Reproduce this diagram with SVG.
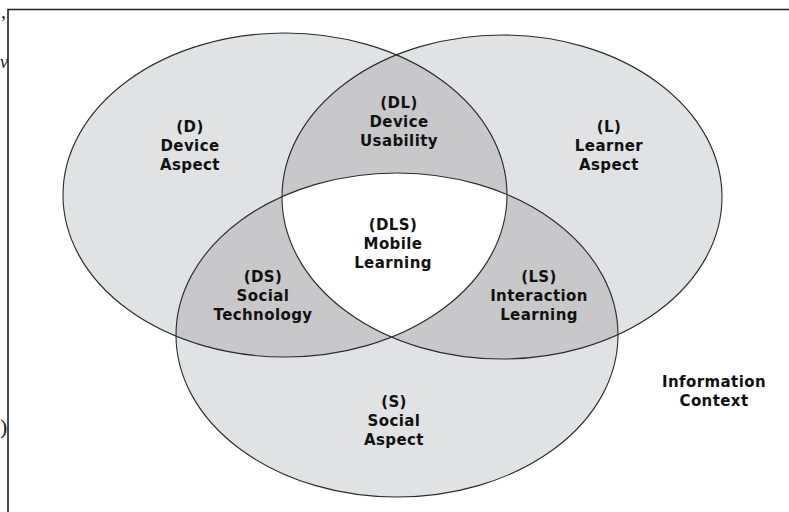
<svg xmlns="http://www.w3.org/2000/svg" width="789" height="512" viewBox="0 0 789 512">
  <style>
    .one { fill: #e1e2e4; }
    .two { fill: #c8c8ca; }
    .three { fill: #ffffff; }
    .edge { fill: none; stroke: #2b2b2b; stroke-width: 1.1; }
    .lbl { font-family: "DejaVu Sans", "Open Sans", sans-serif; font-weight: bold; font-size: 15px; letter-spacing: 0.4px; fill: #111; text-anchor: middle; }
    .stray { font-family: "Liberation Serif", serif; fill: #222; }
    .frame { stroke: #222; stroke-width: 1.6; fill: none; }
  </style>
  <defs>
    <ellipse id="eD" cx="285" cy="195" rx="222" ry="162"/>
    <ellipse id="eL" cx="502" cy="197" rx="220" ry="162"/>
    <ellipse id="eS" cx="397" cy="335" rx="221" ry="162"/>
    <clipPath id="cD"><use href="#eD"/></clipPath>
    <clipPath id="cL"><use href="#eL"/></clipPath>
    <clipPath id="cS"><use href="#eS"/></clipPath>
  </defs>
  <rect x="0" y="0" width="789" height="512" fill="#ffffff"/>
  <path class="frame" d="M8,512 L8,9.5 L789,9.5"/>
  <text class="stray" x="1" y="18" font-size="20">,</text>
  <text class="stray" x="0" y="68" font-size="18" font-style="italic">v</text>
  <text class="stray" x="0" y="434" font-size="22">)</text>

  <g id="circle-D"><use href="#eD" class="one"/></g>
  <g id="circle-L"><use href="#eL" class="one"/></g>
  <g id="circle-S"><use href="#eS" class="one"/></g>
  <g id="overlap-DL"><use href="#eL" class="two" clip-path="url(#cD)"/></g>
  <g id="overlap-DS"><use href="#eS" class="two" clip-path="url(#cD)"/></g>
  <g id="overlap-LS"><use href="#eS" class="two" clip-path="url(#cL)"/></g>
  <g id="overlap-DLS" clip-path="url(#cL)"><use href="#eS" class="three" clip-path="url(#cD)"/></g>
  <g id="outlines">
    <use href="#eD" class="edge"/>
    <use href="#eL" class="edge"/>
    <use href="#eS" class="edge"/>
  </g>

  <g id="label-D"><text class="lbl" x="190" y="132">(D)</text><text class="lbl" x="190" y="151">Device</text><text class="lbl" x="190" y="170">Aspect</text></g>
  <g id="label-DL"><text class="lbl" x="399" y="108">(DL)</text><text class="lbl" x="399" y="127">Device</text><text class="lbl" x="399" y="146">Usability</text></g>
  <g id="label-L"><text class="lbl" x="609" y="132">(L)</text><text class="lbl" x="609" y="151">Learner</text><text class="lbl" x="609" y="170">Aspect</text></g>
  <g id="label-DLS"><text class="lbl" x="393" y="230">(DLS)</text><text class="lbl" x="393" y="249">Mobile</text><text class="lbl" x="393" y="268">Learning</text></g>
  <g id="label-DS"><text class="lbl" x="263" y="282">(DS)</text><text class="lbl" x="263" y="301">Social</text><text class="lbl" x="263" y="320">Technology</text></g>
  <g id="label-LS"><text class="lbl" x="539" y="282">(LS)</text><text class="lbl" x="539" y="301">Interaction</text><text class="lbl" x="539" y="320">Learning</text></g>
  <g id="label-S"><text class="lbl" x="394" y="407">(S)</text><text class="lbl" x="394" y="426">Social</text><text class="lbl" x="394" y="445">Aspect</text></g>
  <g id="label-context"><text class="lbl" x="714" y="387">Information</text><text class="lbl" x="714" y="406">Context</text></g>
</svg>
